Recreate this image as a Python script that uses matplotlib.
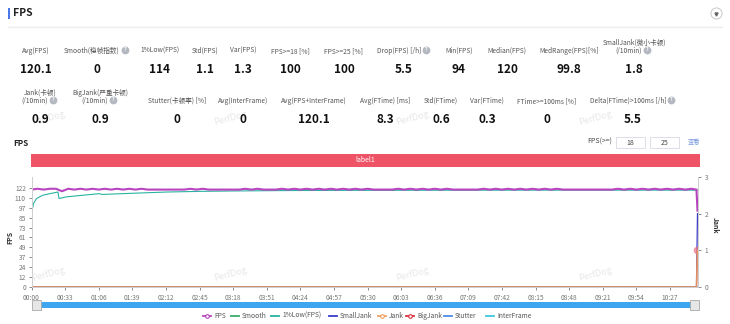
import matplotlib
matplotlib.use("Agg")
import matplotlib.pyplot as plt
import numpy as np
from matplotlib.lines import Line2D
from matplotlib.patches import Rectangle

plt.rcParams['font.family'] = ['Noto Sans CJK SC', 'DejaVu Sans']

W, H = 730, 324

# summary figures (two rows)
row1_labels = ["Avg(FPS)", "Smooth(稳帧指数)", "1%Low(FPS)", "Std(FPS)", "Var(FPS)",
               "FPS>=18 [%]", "FPS>=25 [%]", "Drop(FPS) [/h]", "Min(FPS)", "Median(FPS)",
               "MedRange(FPS)[%]", "SmallJank(微小卡顿)\n(/10min)"]
row1_values = ["120.1", "0", "114", "1.1", "1.3", "100", "100", "5.5", "94", "120", "99.8", "1.8"]
row1_help = [False, True, False, False, False, False, False, True, False, False, False, True]

row2_labels = ["Jank(卡顿)\n(/10min)", "BigJank(严重卡顿)\n(/10min)", "Stutter(卡顿率) [%]",
               "Avg(InterFrame)", "Avg(FPS+InterFrame)", "Avg(FTime) [ms]", "Std(FTime)",
               "Var(FTime)", "FTime>=100ms [%]", "Delta(FTime)>100ms [/h]"]
row2_values = ["0.9", "0.9", "0", "0", "120.1", "8.3", "0.6", "0.3", "0", "5.5"]
row2_help = [True, True, False, False, False, False, False, False, False, True]

# FPS samples every 6 s, then the final drop at 654 s
fps_t = np.append(np.arange(0, 649, 6), [653, 654])
fps = [120, 121, 120, 121, 121, 118, 121, 120, 121, 120, 121, 120, 121, 120, 121, 120, 121, 120, 121, 120,
       120, 120, 120, 120, 120, 120,
       121, 120, 121,
       120, 120, 120, 120, 120, 120,
       121, 120, 121,
       120, 120, 120,
       121, 120, 121, 120, 121, 120, 121, 120, 121, 120, 121, 120, 121, 120, 121,
       120, 120, 120, 120,
       121, 120, 121, 120, 121, 120, 121, 120, 121, 120,
       120, 120, 120, 120,
       121, 120, 121, 120, 121, 120, 121, 120, 121, 120, 121, 120, 121, 120,
       120, 120, 120, 120, 120, 120, 120, 120,
       121, 120, 121, 120, 121, 120, 121, 120, 121, 120, 121, 120, 121,
       120, 94]

low_t = [0, 2, 5, 8, 11, 18, 26, 27, 34, 50, 67, 69, 100, 133, 165, 198, 250, 296, 400, 500, 654]
low_fps = [90, 103, 109, 111, 113, 115, 117, 109, 111, 113, 115, 114, 115.5, 117, 117.8, 118.3,
           118.8, 119, 119.2, 119.3, 119.3]

# jank counters (right axis), only the last sample is non-zero
jank_t = [0, 653, 654]
small_jank = [0, 0, 2]
jank = [0, 0, 1]
big_jank = [0, 0, 1]
smooth = [0, 0, 0]
stutter = [0, 0, 0]
inter_frame = [0, 0, 0]

left_ticks = ['0', '12', '24', '37', '49', '61', '73', '85', '97', '110', '122']

series_names = ["FPS", "Smooth", "1%Low(FPS)", "SmallJank", "Jank", "BigJank", "Stutter", "InterFrame"]
colors = {"FPS": "#b845bf", "Smooth": "#3dab6c", "1%Low(FPS)": "#2ab3a3", "SmallJank": "#3b3bcc",
          "Jank": "#f0a060", "BigJank": "#d9303e", "Stutter": "#4a8de6", "InterFrame": "#3ec6df"}


def fx(x):
    return x / W


def fy(y):
    return 1 - y / H


fig = plt.figure(figsize=(W / 100, H / 100), dpi=100)
fig.patch.set_facecolor("white")


def txt(x, y, s, **kw):
    kw.setdefault("ha", "center")
    kw.setdefault("va", "center")
    return fig.text(fx(x), fy(y), s, **kw)


def dot(x, y, **kw):
    fig.add_artist(Line2D([fx(x)], [fy(y)], transform=fig.transFigure, **kw))


def rect(x0, y0, x1, y1, **kw):
    fig.add_artist(Rectangle((fx(x0), fy(y1)), fx(x1) - fx(x0), fy(y0) - fy(y1),
                             transform=fig.transFigure, **kw))


# header
rect(7.5, 8, 9.5, 19, facecolor="#4a78e8", edgecolor="none")
txt(13, 13, "FPS", ha="left", fontsize=7.5, fontweight="bold", color="#222")
dot(716, 13, marker="o", ms=8, mfc="white", mec="#c8c8c8", mew=0.7)
dot(716, 13.5, marker="v", ms=2.2, color="#666")
fig.add_artist(Line2D([fx(8), fx(722)], [fy(27), fy(27)], transform=fig.transFigure,
                      color="#eeeeee", lw=1))

# watermarks
for wy in (118, 274):
    for wx in (48, 230, 412, 595):
        txt(wx, wy, "PerfDog", fontsize=6.5, color="#e8e8e8", rotation=15, zorder=0)

renderer = fig.canvas.get_renderer()
row1_x = [36, 97, 160, 205, 243, 290, 344, 404, 459, 507, 569, 634]
row2_x = [40, 100, 177, 243, 314, 385, 441, 487, 547, 633]


def stat_row(xs, labels, values, helps, label_y, value_y):
    for x, lab, val, hp in zip(xs, labels, values, helps):
        lines = lab.split("\n")
        y0 = label_y - 8.5 * (len(lines) - 1)
        for k, line in enumerate(lines):
            last = k == len(lines) - 1
            shift = 5 if (hp and last) else 0
            t = txt(x - shift, y0 + 8.5 * k, line, fontsize=4.8, color="#555")
        if hp:
            bb = t.get_window_extent(renderer)
            hx = bb.x1 + 5
            hy = H - bb.y0 - 5.5
            dot(hx, hy, marker="o", ms=4.6, color="#b4b8c0")
            txt(hx, hy, "?", fontsize=3.6, color="white", fontweight="bold")
        txt(x, value_y, val, fontsize=8.5, fontweight="bold", color="#111")


stat_row(row1_x, row1_labels, row1_values, row1_help, 51, 69)
stat_row(row2_x, row2_labels, row2_values, row2_help, 101, 119)

# chart title and threshold inputs
txt(13, 143, "FPS", ha="left", fontsize=5.8, fontweight="bold", color="#222")
txt(612, 142, "FPS(>=)", ha="right", fontsize=5, color="#444")
for x0, x1, val in ((616, 645, "18"), (650, 679, "25")):
    rect(x0, 137, x1, 148, facecolor="white", edgecolor="#dcdfe6", lw=0.7)
    txt((x0 + x1) / 2, 142.5, val, fontsize=5, color="#444")
txt(694, 142.5, "查看", fontsize=4.5, color="#7b9be0")

# label bar
rect(31, 154, 700, 167, facecolor="#ee5466", edgecolor="none")
txt(365, 160.5, "label1", fontsize=5, color="white")

# main chart
ax = fig.add_axes([fx(31.5), fy(287), fx(698) - fx(31.5), fy(177) - fy(287)])
ax2 = ax.twinx()

ax.plot(low_t, low_fps, color=colors["1%Low(FPS)"], lw=0.8, zorder=3)
ax.plot(fps_t, fps, color=colors["FPS"], lw=1.5, zorder=4)

ax2.plot(jank_t, smooth, color=colors["Smooth"], lw=1)
ax2.plot(jank_t, stutter, color=colors["Stutter"], lw=1)
ax2.plot(jank_t, inter_frame, color=colors["InterFrame"], lw=1)
ax2.plot(jank_t, small_jank, color=colors["SmallJank"], lw=0.9)
ax2.plot(jank_t, big_jank, color=colors["BigJank"], lw=0.8, alpha=0.7)
ax2.plot(jank_t[-1:], big_jank[-1:], "o", color="#f06a80", ms=4.5, alpha=0.6)
ax2.plot(jank_t, jank, color=colors["Jank"], lw=1.2, alpha=0.85)

ax.set_xlim(0, 654.5)
ax.set_ylim(0, 135.5)
ax2.set_ylim(0, 3)

xt = np.arange(0, 628, 33)
ax.set_xticks(xt)
ax.set_xticklabels(["%02d:%02d" % (s // 60, s % 60) for s in xt])
ax.set_yticks(np.arange(len(left_ticks)) * 12.2)
ax.set_yticklabels(left_ticks)
ax2.set_yticks([0, 1, 2, 3])

for a in (ax, ax2):
    a.tick_params(labelsize=4.8, colors="#777", length=2.5, width=0.6, pad=2.5)
    a.spines["top"].set_visible(False)
    for side in ("left", "right", "bottom"):
        a.spines[side].set_color("#cfcfcf")
        a.spines[side].set_linewidth(0.7)
ax.tick_params(axis="y", pad=1.5)
ax2.tick_params(axis="y", pad=2.5)
ax.set_facecolor("none")

txt(10, 237, "FPS", fontsize=5, fontweight="bold", color="#333", rotation=90)
txt(715, 225, "Jank", fontsize=5, fontweight="bold", color="#333", rotation=-90)

# zoom slider
rect(34, 302, 698, 308, facecolor="#3ea6ef", edgecolor="none")
for x0 in (32, 690):
    rect(x0, 300, x0 + 9, 310, facecolor="#e6e6e6", edgecolor="#a8a8a8", lw=0.6)

# legend
legend_x = [207, 235, 275, 333, 382, 410, 448, 490]
with_marker = {"FPS", "Jank", "BigJank"}
for name, lx in zip(series_names, legend_x):
    c = colors[name]
    fig.add_artist(Line2D([fx(lx - 4), fx(lx + 4)], [fy(316), fy(316)], transform=fig.transFigure,
                          color=c, lw=1.3))
    if name in with_marker:
        dot(lx, 316, marker="o", ms=2.6, mfc="white", mec=c, mew=0.8)
    txt(lx + 7, 316, name, ha="left", fontsize=4.8, color="#555")

fig.savefig("out.png", dpi=100)
